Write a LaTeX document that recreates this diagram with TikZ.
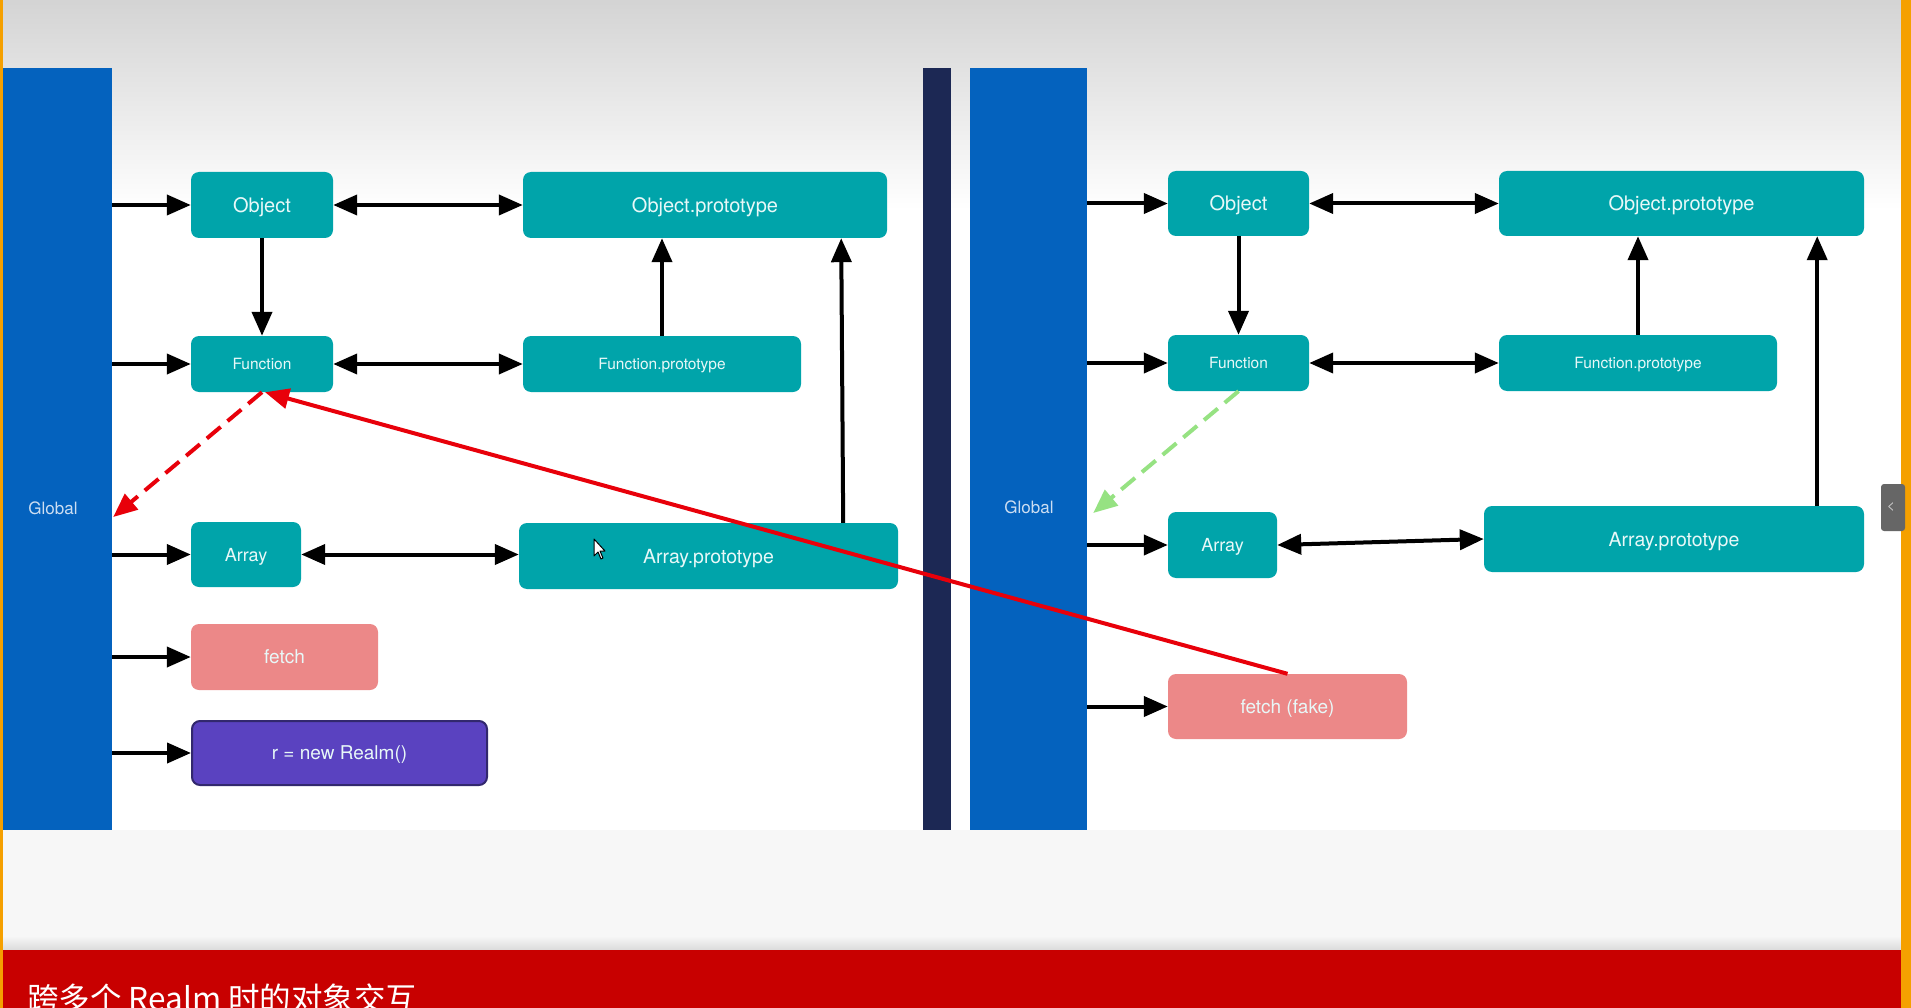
\documentclass[tikz,border=0pt]{standalone}
\usepackage{fontspec}
\setmainfont{TeX Gyre Heros}
\newfontfamily\cjk{Noto Sans CJK SC}
\usetikzlibrary{arrows.meta}
\definecolor{teal1}{RGB}{0,164,170}
\definecolor{barblue}{RGB}{4,98,190}
\definecolor{navy1}{RGB}{28,40,84}
\definecolor{pink1}{RGB}{236,136,136}
\definecolor{purple1}{RGB}{90,66,192}
\definecolor{purpleedge}{RGB}{50,40,110}
\definecolor{boxtext}{RGB}{232,248,248}
\definecolor{globaltext}{RGB}{205,222,242}
\definecolor{banner}{RGB}{200,0,0}
\definecolor{edgeorange}{RGB}{245,160,0}
\definecolor{arrred}{RGB}{232,0,10}
\definecolor{arrgreen}{RGB}{150,226,130}
\tikzset{
  tbox/.style={fill=teal1, rounded corners=8pt, text=boxtext, inner sep=0pt, text depth=0pt},
  pbox/.style={fill=pink1, rounded corners=8pt, text=boxtext, inner sep=0pt, text depth=0pt},
  rbox/.style={fill=purple1, draw=purpleedge, line width=2pt, rounded corners=8pt, text=boxtext, inner sep=0pt, text depth=0pt},
  gbar/.style={fill=barblue, inner sep=0pt},
  gtext/.style={text=globaltext, inner sep=0pt, font=\fontsize{17}{20}\selectfont},
  big/.style={font=\fontsize{20}{24}\selectfont},
  mid/.style={font=\fontsize{19}{23}\selectfont},
  small/.style={font=\fontsize{15.5}{18}\selectfont},
  arr/.style={line width=4pt, -{Triangle[length=24pt,width=20pt]}},
  barr/.style={line width=4pt, {Triangle[length=24pt,width=20pt]}-{Triangle[length=24pt,width=20pt]}},
  redarr/.style={line width=4pt, draw=arrred, -{Triangle[length=24pt,width=20pt]}},
  greenarr/.style={line width=4pt, draw=arrgreen, dash pattern=on 18pt off 9pt, -{Triangle[length=24pt,width=20pt]}}
}
\begin{document}
\begin{tikzpicture}[x=1pt,y=-1pt]
\useasboundingbox (0,0) rectangle (1911,1008);
% background
\fill[white] (0,0) rectangle (1911,1008);
\shade[top color=black!17, bottom color=white] (3,0) rectangle (1901,210);
\fill[black!3] (3,830) rectangle (1901,950);
\shade[top color=black!3, bottom color=black!14] (3,936) rectangle (1901,950);
\fill[banner] (0,950) rectangle (1901,1008);
\fill[edgeorange] (0,0) rectangle (3,1008);
\fill[edgeorange] (1901,0) rectangle (1911,1008);
% side tab
\fill[black!60, rounded corners=3pt] (1881,484) rectangle (1905,531);
\node[text=black!20, font=\fontsize{14}{16}\selectfont, inner sep=0pt] (tab) at (1891,507) {<};

% bars
\node[gbar, minimum width=109, minimum height=762] (g1) at (57.5,449) {};
\node[gtext] (gt1) at (53,508) {Global};
\node[fill=navy1, minimum width=28, minimum height=762, inner sep=0pt] (sep) at (937,449) {};
\node[gbar, minimum width=117, minimum height=762] (g2) at (1028.5,449) {};
\node[gtext] (gt2) at (1029,507) {Global};

% left realm
\node[tbox, big, minimum width=142, minimum height=66] (o1) at (262,205) {Object};
\node[tbox, big, minimum width=364, minimum height=66] (op1) at (705,205) {Object.prototype};
\node[tbox, small, minimum width=142, minimum height=56] (f1) at (262,364) {Function};
\node[tbox, small, minimum width=278, minimum height=56] (fp1) at (662,364) {Function.prototype};
\node[tbox, font=\fontsize{18}{22}\selectfont, minimum width=110, minimum height=65] (a1) at (246,554.5) {Array};
\node[tbox, font=\fontsize{19.5}{23}\selectfont, minimum width=379, minimum height=66] (ap1) at (708.5,556) {Array.prototype};
\node[pbox, mid, minimum width=187, minimum height=66] (fe1) at (284.5,657) {fetch};
\node[rbox, mid, minimum width=295, minimum height=64] (r1) at (339.5,753) {r = new Realm()};

% right realm
\node[tbox, big, minimum width=141, minimum height=65] (o2) at (1238.5,203.5) {Object};
\node[tbox, big, minimum width=365, minimum height=65] (op2) at (1681.5,203.5) {Object.prototype};
\node[tbox, small, minimum width=141, minimum height=56] (f2) at (1238.5,363) {Function};
\node[tbox, small, minimum width=278, minimum height=56] (fp2) at (1638,363) {Function.prototype};
\node[tbox, font=\fontsize{18}{22}\selectfont, minimum width=109, minimum height=66] (a2) at (1222.5,545) {Array};
\node[tbox, font=\fontsize{19.5}{23}\selectfont, minimum width=380, minimum height=66] (ap2) at (1674,539) {Array.prototype};
\node[pbox, mid, minimum width=239, minimum height=65] (ff2) at (1287.5,706.5) {fetch (fake)};

% left arrows
\draw[arr] (g1.east |- o1.west) -- (o1.west);
\draw[arr] (g1.east |- f1.west) -- (f1.west);
\draw[arr] (g1.east |- a1.west) -- (a1.west);
\draw[arr] (g1.east |- fe1.west) -- (fe1.west);
\draw[arr] (g1.east |- r1.west) -- (r1.west);
\draw[barr] (o1.east) -- (op1.west |- o1.east);
\draw[barr] (f1.east) -- (fp1.west);
\draw[barr] (a1.east) -- (ap1.west |- a1.east);
\draw[arr] (o1.south) -- (f1.north);
\draw[arr] (fp1.north) -- (fp1.north |- op1.south);
\draw[arr] ([xshift=-55pt]ap1.north east) -- ([xshift=-57pt]ap1.north east |- op1.south);

% right arrows
\draw[arr] (g2.east |- o2.west) -- (o2.west);
\draw[arr] (g2.east |- f2.west) -- (f2.west);
\draw[arr] (g2.east |- a2.west) -- (a2.west);
\draw[arr] (g2.east |- ff2.west) -- (ff2.west);
\draw[barr] (o2.east) -- (op2.west |- o2.east);
\draw[barr] (f2.east) -- (fp2.west);
\draw[barr] (a2.east) -- (ap2.west);
\draw[arr] (o2.south) -- (f2.north);
\draw[arr] (fp2.north) -- (fp2.north |- op2.south);
\draw[arr] ([xshift=-47pt]ap2.north east) -- ([xshift=-47pt]ap2.north east |- op2.south);

% dashed prototype links
\coordinate (gl1) at ([xshift=1pt,yshift=-68pt]g1.east);
\coordinate (gl2) at ([xshift=6pt,yshift=-64pt]g2.east);
\draw[redarr, dash pattern=on 18pt off 9pt] (f1.south) -- (gl1);
\draw[greenarr] (f2.south) -- (gl2);

% cross realm link
\draw[redarr] (ff2.north) -- ([xshift=3pt]f1.south);

% mouse cursor
\draw[fill=white, line width=1pt, line join=round] (594,539) -- (594,556) -- (598,552) -- (601,559) -- (603,558) -- (600,551) -- (605,551) -- cycle;

% title
\node[anchor=base west, text=white, font=\cjk\fontsize{31.5}{36}\selectfont, inner sep=0pt] (title) at (27,1010) {跨多个 Realm 时的对象交互};
\end{tikzpicture}
\end{document}
